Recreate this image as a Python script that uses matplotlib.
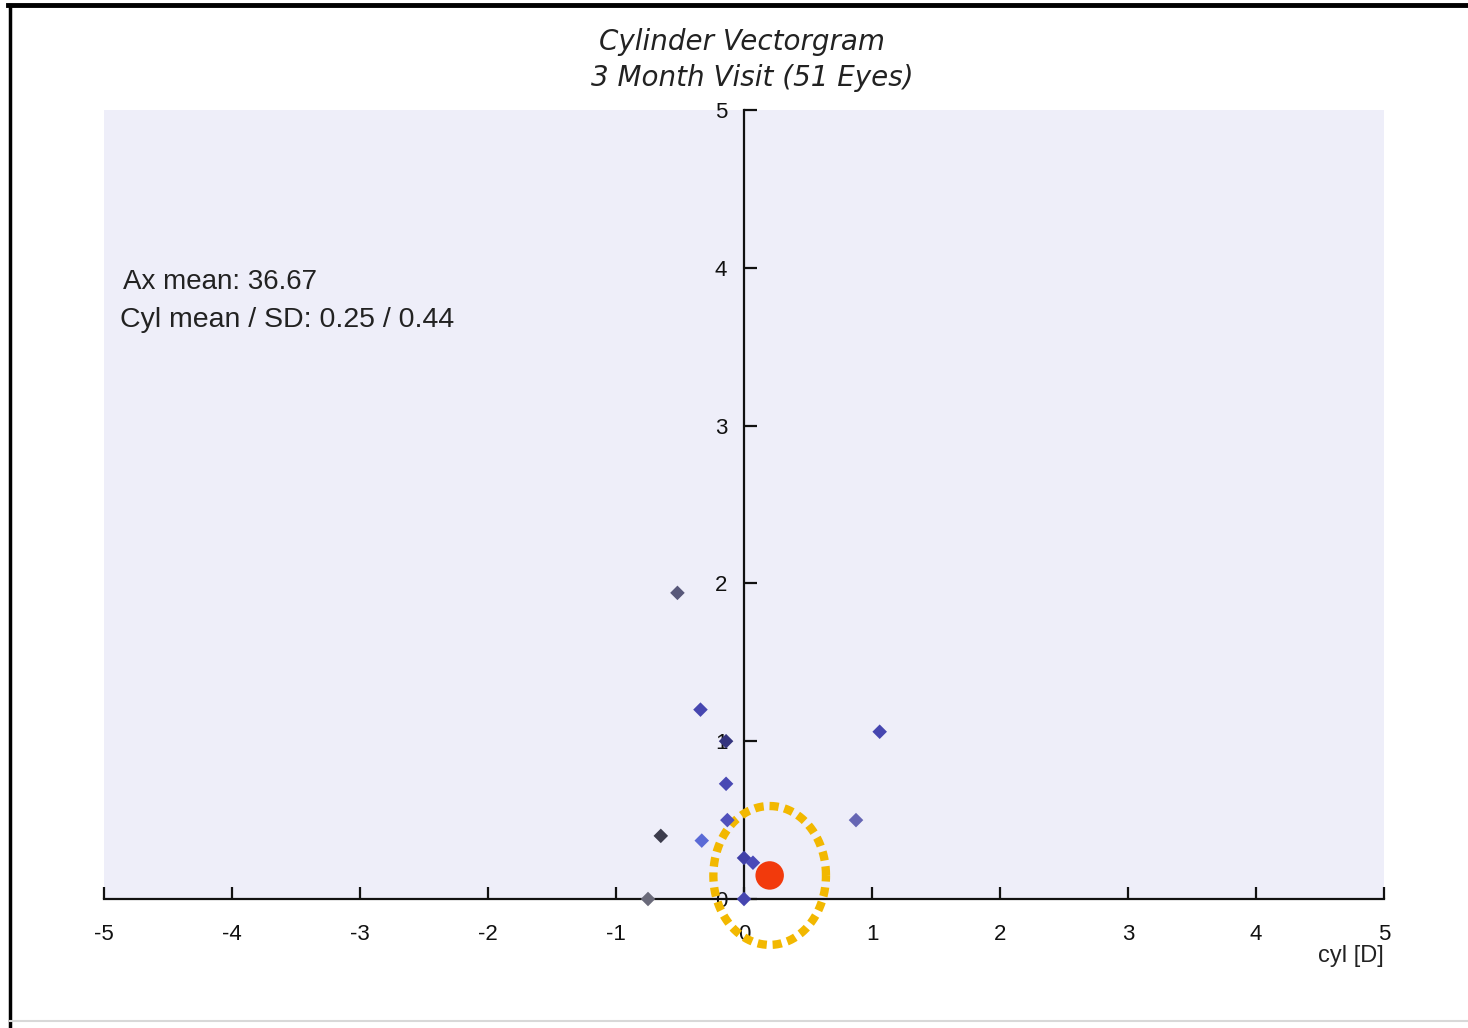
import numpy as np
import matplotlib
matplotlib.use("Agg")
import matplotlib.pyplot as plt
from matplotlib.lines import Line2D

# Individual eye vectors (cylinder components, dioptres)
eye_x = [-0.52, -0.34, -0.14, -0.14, -0.13, -0.33, -0.65, -0.75, 0.00, 0.00, 0.07, 0.875, 1.06]
eye_y = [1.94, 1.20, 1.00, 0.73, 0.50, 0.37, 0.40, 0.00, 0.00, 0.26, 0.23, 0.50, 1.06]
eye_colors = ["#58587a", "#4646b0", "#34347e", "#4848b4", "#5050bc", "#5a6ad6",
              "#3c3c4c", "#6a6a7a", "#4646b0", "#4040a8", "#4a4ab8", "#6666b4", "#4646b0"]

ax_mean = 36.67
cyl_mean = 0.25
cyl_sd = 0.44

ticks = [-5, -4, -3, -2, -1, 0, 1, 2, 3, 4, 5]
yticks = [0, 1, 2, 3, 4, 5]

fig = plt.figure(figsize=(14.68, 10.28), dpi=100)
fig.patch.set_facecolor("white")

ax = fig.add_axes([104 / 1468, (1028 - 899) / 1028, 1280 / 1468, 789 / 1028])
ax.set_facecolor("#eeeef9")
ax.set_xlim(-5, 5)
ax.set_ylim(0, 5)

for side in ("top", "right"):
    ax.spines[side].set_visible(False)
ax.spines["left"].set_position(("data", 0))
ax.spines["left"].set_linewidth(1.6)
ax.spines["bottom"].set_linewidth(1.6)
ax.spines["left"].set_color("#111111")
ax.spines["bottom"].set_color("#111111")

ax.set_xticks(ticks)
ax.set_xticklabels([str(t) for t in ticks])
ax.set_yticks(yticks)
ax.set_yticklabels([str(t) for t in yticks])
ax.tick_params(axis="x", direction="in", length=9, width=1.6, pad=18,
               labelsize=16, colors="#111111")
ax.tick_params(axis="y", direction="in", length=9, width=1.6, pad=12,
               labelsize=16, colors="#111111")
for lbl in ax.get_xticklabels() + ax.get_yticklabels():
    lbl.set_family("Liberation Sans")

# Mean vector and SD circle
mx = cyl_mean * np.cos(np.deg2rad(ax_mean))
my = cyl_mean * np.sin(np.deg2rad(ax_mean))
t = np.linspace(0, 2 * np.pi, 400)
ax.plot(mx + cyl_sd * np.cos(t), my + cyl_sd * np.sin(t),
        color="#f2b800", lw=6, linestyle=(0, (1.1, 0.7)),
        dash_capstyle="butt", clip_on=False, zorder=3)

# Eye vectors
ax.scatter(eye_x, eye_y, marker="D", s=55, c=eye_colors, edgecolors="none",
           clip_on=False, zorder=4)

ax.scatter([mx], [my], s=420, c="#f23a0c", edgecolors="none", clip_on=False, zorder=5)

# Titles and summary text
fig.text(742 / 1468, 1 - 42 / 1028, "Cylinder Vectorgram", ha="center", va="center",
         fontsize=20, style="italic", family="DejaVu Sans", color="#222222")
fig.text(752 / 1468, 1 - 78 / 1028, "3 Month Visit (51 Eyes)", ha="center", va="center",
         fontsize=20, style="italic", family="DejaVu Sans", color="#222222")
fig.text(123 / 1468, 1 - 282 / 1028, "Ax mean: %.2f" % ax_mean, ha="left", va="center",
         fontsize=20, family="Liberation Sans", color="#222222")
fig.text(120 / 1468, 1 - 320 / 1028, "Cyl mean / SD: %.2f / %.2f" % (cyl_mean, cyl_sd),
         ha="left", va="center", fontsize=20.5, family="Liberation Sans", color="#222222")
fig.text(1384 / 1468, 1 - 956 / 1028, "cyl [D]", ha="right", va="center",
         fontsize=17, family="Liberation Sans", color="#222222")

# Frame around the figure
fig.add_artist(Line2D([8 / 1468, 1.0], [1 - 5 / 1028, 1 - 5 / 1028], color="black",
                      lw=3.5, transform=fig.transFigure))
fig.add_artist(Line2D([10 / 1468, 10 / 1468], [0, 1 - 5 / 1028], color="black",
                      lw=2.5, transform=fig.transFigure))
fig.add_artist(Line2D([10 / 1468, 1.0], [1 - 1021 / 1028, 1 - 1021 / 1028], color="#d8d8d8",
                      lw=1.5, transform=fig.transFigure))

fig.savefig("out.png", dpi=100, facecolor="white")
